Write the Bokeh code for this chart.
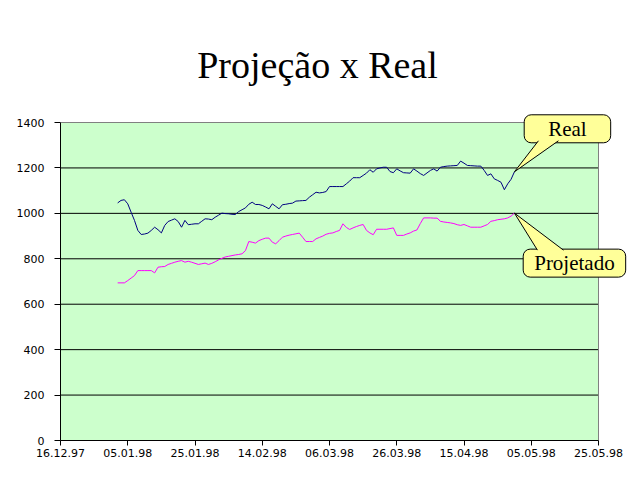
import pandas as pd
from bokeh.plotting import figure
from bokeh.models import Range1d, FixedTicker, DatetimeTickFormatter, Label
from bokeh.embed import file_html
from bokeh.resources import INLINE

title_text = "Projeção x Real"
series_names = ["Real", "Projetado"]
x_start, x_end = "16.12.97", "25.05.98"
x_tick_labels = ["16.12.97", "05.01.98", "25.01.98", "14.02.98", "06.03.98",
                 "26.03.98", "15.04.98", "05.05.98", "25.05.98"]
y_ticks = [0, 200, 400, 600, 800, 1000, 1200, 1400]

real_dates = [
    "02.01.98", "03.01.98", "04.01.98", "05.01.98", "06.01.98", "07.01.98", "08.01.98", "09.01.98",
    "10.01.98", "11.01.98", "12.01.98", "13.01.98", "14.01.98", "15.01.98", "16.01.98", "17.01.98",
    "18.01.98", "19.01.98", "20.01.98", "21.01.98", "22.01.98", "23.01.98", "24.01.98", "25.01.98",
    "26.01.98", "27.01.98", "28.01.98", "29.01.98", "30.01.98", "31.01.98", "01.02.98", "02.02.98",
    "03.02.98", "04.02.98", "05.02.98", "06.02.98", "07.02.98", "08.02.98", "09.02.98", "10.02.98",
    "11.02.98", "12.02.98", "13.02.98", "14.02.98", "15.02.98", "16.02.98", "17.02.98", "18.02.98",
    "19.02.98", "20.02.98", "21.02.98", "22.02.98", "23.02.98", "24.02.98", "25.02.98", "26.02.98",
    "27.02.98", "28.02.98", "01.03.98", "02.03.98", "03.03.98", "04.03.98", "05.03.98", "06.03.98",
    "07.03.98", "08.03.98", "09.03.98", "10.03.98", "11.03.98", "12.03.98", "13.03.98", "14.03.98",
    "15.03.98", "16.03.98", "17.03.98", "18.03.98", "19.03.98", "20.03.98", "21.03.98", "22.03.98",
    "23.03.98", "24.03.98", "25.03.98", "26.03.98", "27.03.98", "28.03.98", "29.03.98", "30.03.98",
    "31.03.98", "01.04.98", "02.04.98", "03.04.98", "04.04.98", "05.04.98", "06.04.98", "07.04.98",
    "08.04.98", "09.04.98", "10.04.98", "11.04.98", "12.04.98", "13.04.98", "14.04.98", "15.04.98",
    "16.04.98", "17.04.98", "18.04.98", "19.04.98", "20.04.98", "21.04.98", "22.04.98", "23.04.98",
    "24.04.98", "25.04.98", "26.04.98", "27.04.98", "28.04.98", "29.04.98", "30.04.98",
]
proj_dates = list(real_dates)

real_values = [
    1046, 1057, 1060, 1042, 1005, 969, 925, 907,
    909, 913, 925, 939, 928, 914, 947, 964,
    970, 976, 964, 939, 969, 950, 952, 954,
    954, 965, 976, 975, 972, 983, 992, 1001,
    999, 998, 996, 995, 1008, 1016, 1024, 1040,
    1049, 1039, 1039, 1035, 1028, 1020, 1042, 1031,
    1020, 1038, 1040, 1043, 1045, 1054, 1055, 1056,
    1057, 1071, 1082, 1093, 1090, 1092, 1096, 1118,
    1118, 1118, 1118, 1118, 1130, 1142, 1157, 1157,
    1157, 1167, 1177, 1192, 1181, 1196, 1200, 1203,
    1203, 1184, 1179, 1196, 1187, 1179, 1178, 1177,
    1196, 1186, 1175, 1167, 1178, 1189, 1196, 1186,
    1203, 1206, 1208, 1209, 1210, 1211, 1230, 1221,
    1211, 1210, 1209, 1208, 1208, 1189, 1167, 1174,
    1152, 1145, 1137, 1104, 1130, 1150, 1183,
]

proj_values = [
    694, 694, 694, 704, 715, 726, 748, 748,
    748, 748, 748, 738, 763, 765, 766, 775,
    780, 785, 789, 792, 785, 789, 785, 780,
    775, 778, 781, 775, 780, 787, 795, 802,
    808, 811, 814, 817, 819, 822, 836, 876,
    873, 869, 880, 886, 891, 891, 873, 866,
    880, 895, 900, 904, 907, 910, 913, 895,
    876, 876, 876, 888, 894, 900, 908, 912,
    914, 920, 925, 954, 938, 929, 936, 942,
    947, 951, 925, 914, 906, 930, 930, 930,
    930, 933, 936, 903, 903, 903, 909, 914,
    922, 927, 955, 980, 980, 980, 979, 979,
    965, 962, 960, 958, 955, 950, 947, 951,
    945, 939, 939, 939, 939, 945, 951, 965,
    968, 972, 974, 976, 980, 988, 1001,
]

FMT = "%d.%m.%y"


def to_ms(s):
    return pd.to_datetime(s, format=FMT).value / 1e6


xs_real = pd.to_datetime(real_dates, format=FMT)
xs_proj = pd.to_datetime(proj_dates, format=FMT)
ms0, ms1 = to_ms(x_start), to_ms(x_end)
y0, y1 = y_ticks[0], y_ticks[-1]

# plot-area size in px (data area), plus extra room inside the frame for the
# title and callouts so they are not clipped
AW, AH = 538, 318
EXTRA_R, EXTRA_T = 38, 102
ms_per_px = (ms1 - ms0) / AW
v_per_px = (y1 - y0) / AH

p = figure(frame_width=AW + EXTRA_R, frame_height=AH + EXTRA_T, output_backend="svg",
           toolbar_location=None, x_axis_type="datetime",
           x_range=Range1d(ms0, ms1 + EXTRA_R * ms_per_px),
           y_range=Range1d(y0, y1 + EXTRA_T * v_per_px),
           min_border_left=60, min_border_right=2, min_border_top=20, min_border_bottom=36)
p.background_fill_color = "white"
p.border_fill_color = "white"
p.outline_line_color = None
p.xgrid.visible = False
p.ygrid.visible = False

# plot area
p.quad(left=[ms0], right=[ms1], bottom=[y0], top=[y1], fill_color="#CCFFCC", line_color=None)
p.segment(x0=[ms0] * (len(y_ticks) - 2), x1=[ms1] * (len(y_ticks) - 2),
          y0=y_ticks[1:-1], y1=y_ticks[1:-1], color="black", line_width=1)
p.line([ms0, ms1, ms1], [y1, y1, y0], color="#808080", line_width=1)

# axes
p.xaxis.ticker = FixedTicker(ticks=[to_ms(t) for t in x_tick_labels])
fmt = {k: FMT for k in ["microseconds", "milliseconds", "seconds", "minsec", "minutes",
                        "hourmin", "hours", "days", "months", "years"]}
p.xaxis.formatter = DatetimeTickFormatter(**fmt)
p.xaxis.bounds = (ms0, ms1)
p.yaxis.ticker = FixedTicker(ticks=y_ticks)
p.yaxis.bounds = (y0, y1)
for ax in (p.xaxis[0], p.yaxis[0]):
    ax.axis_line_color = "black"
    ax.major_tick_line_color = "black"
    ax.major_tick_in = 0
    ax.major_tick_out = 6
    ax.minor_tick_line_color = None
    ax.major_label_text_font = "DejaVu Sans"
    ax.major_label_text_font_size = "11px"
    ax.major_label_text_color = "black"
p.xaxis.major_tick_out = 5
p.xaxis.major_label_standoff = 3
p.yaxis.major_label_standoff = 10

p.line(xs_proj, proj_values, color="#FF00FF", line_width=1)
p.line(xs_real, real_values, color="#000080", line_width=1)

# title
mid = (ms0 + ms1) / 2
p.add_layout(Label(x=mid, y=y1, x_offset=-12, y_offset=58, text=title_text,
                   text_font="Liberation Serif", text_font_size="38px", text_color="black",
                   text_align="center", text_baseline="alphabetic"))


def callout(tx, ty, name, dx, dy, base, pad):
    tip_x = tx.value / 1e6
    bx = [tip_x + b[0] * ms_per_px for b in base]
    by = [ty + b[1] * v_per_px for b in base]
    p.add_layout(Label(x=tip_x, y=ty, x_offset=dx, y_offset=dy, text=name,
                       text_font="Liberation Serif", text_font_size="21px", text_color="black",
                       text_align="center", text_baseline="middle",
                       background_fill_color="#FFFF99", border_line_color="black",
                       border_line_width=1, padding=pad, border_radius=7))
    p.patch([tip_x, bx[0], bx[1]], [ty, by[0], by[1]], fill_color="#FFFF99",
            line_color=None, level="overlay")
    p.line([bx[0], tip_x, bx[1]], [by[0], ty, by[1]], color="black", line_width=1,
           level="overlay")


callout(xs_real[-1], real_values[-1], series_names[0], 53, 43,
        [(24, 31), (44, 31)], dict(left=24, right=24, top=2, bottom=2))
callout(xs_proj[-1], proj_values[-1], series_names[1], 60, -50,
        [(23, -37), (49, -37)], dict(left=11, right=11, top=2, bottom=2))

open("out.html", "w").write(file_html(p, INLINE))
